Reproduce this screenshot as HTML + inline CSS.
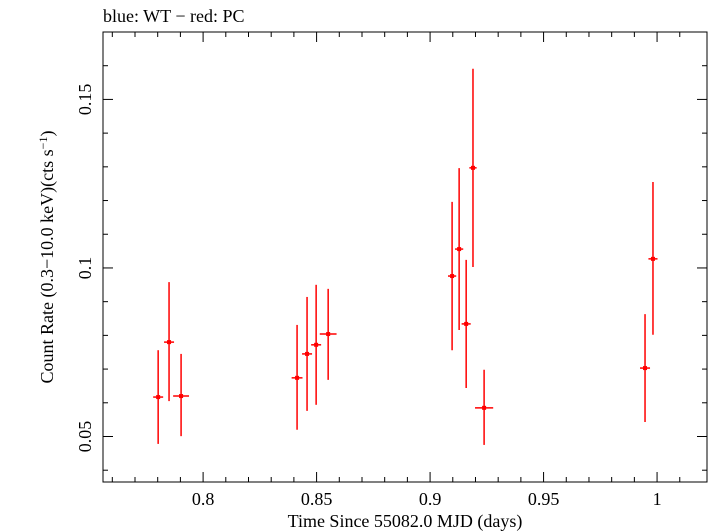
<!DOCTYPE html>
<html><head><meta charset="utf-8"><style>
body{margin:0;background:#fff;}
svg{display:block;font-family:"Liberation Serif",serif;}
</style></head><body>
<svg id="chart" width="709" height="532">
<text x="103" y="22" font-size="18">blue: WT − red: PC</text>
<rect x="103" y="32" width="604" height="450" fill="none" stroke="#000" stroke-width="1"/>
<g id="axes"></g>
<g id="marks"></g>
<text x="405" y="527" font-size="18" text-anchor="middle">Time Since 55082.0 MJD (days)</text>
<text transform="translate(53,257) rotate(-90)" font-size="18" text-anchor="middle">Count Rate (0.3−10.0 keV)(cts s<tspan dy="-6" font-size="12">−1</tspan><tspan dy="6">)</tspan></text>
</svg>
<script>
const times=[0.7802,0.7850,0.7903,0.8414,0.8458,0.8498,0.8551,0.9097,0.9128,0.9159,0.9189,0.9238,0.9947,0.9982];
const timeErr=[0.0022,0.0022,0.0035,0.0024,0.0022,0.0022,0.0037,0.0018,0.0018,0.0020,0.0016,0.0040,0.0022,0.0020];
const rates=[0.0617,0.0780,0.0620,0.0674,0.0745,0.0772,0.0804,0.0976,0.1056,0.0834,0.1297,0.0585,0.0703,0.1027];
const rateErrUp=[0.0139,0.0178,0.0125,0.0157,0.0169,0.0178,0.0134,0.0220,0.0240,0.0190,0.0294,0.0113,0.0160,0.0228];
const rateErrDown=[0.0139,0.0175,0.0119,0.0154,0.0169,0.0178,0.0136,0.0220,0.0240,0.0190,0.0294,0.0110,0.0160,0.0225];
const xTicks=[0.8,0.85,0.9,0.95,1];
const xTickLabels=["0.8","0.85","0.9","0.95","1"];
const yTicks=[0.05,0.1,0.15];
const yTickLabels=["0.05","0.1","0.15"];
const L=103,R=707,T=32,B=482,x0=0.7559,x1=1.0220,y0=0.0365,y1=0.1700;
const X=v=>L+(v-x0)/(x1-x0)*(R-L);
const Y=v=>B-(v-y0)/(y1-y0)*(B-T);
const NS="http://www.w3.org/2000/svg";
const ax=document.getElementById('axes'),mk=document.getElementById('marks');
function ln(g,a,b,c,d,col,w){const e=document.createElementNS(NS,'line');e.setAttribute('x1',a);e.setAttribute('y1',b);e.setAttribute('x2',c);e.setAttribute('y2',d);e.setAttribute('stroke',col);e.setAttribute('stroke-width',w);g.appendChild(e);return e;}
for(let v=0.76;v<=1.02;v+=0.01){const p=X(v);const major=xTicks.some(t=>Math.abs(t-v)<1e-6);const s=major?10:5;
let e=ln(ax,p,B,p,B-s,'#000',1);
e=ln(ax,p,T,p,T+s,'#000',1);}
for(let v=0.04;v<=0.17;v+=0.01){const p=Y(v);const major=yTicks.some(t=>Math.abs(t-v)<1e-6);const s=major?10:5;
let e=ln(ax,L,p,L+s,p,'#000',1);
e=ln(ax,R,p,R-s,p,'#000',1);}
xTicks.forEach((t,i)=>{const e=document.createElementNS(NS,'text');e.setAttribute('x',X(t));e.setAttribute('y',505);e.setAttribute('font-size','18');e.setAttribute('text-anchor','middle');e.textContent=xTickLabels[i];

ax.appendChild(e);});
yTicks.forEach((t,i)=>{const e=document.createElementNS(NS,'text');e.setAttribute('transform',`translate(91,${Y(t)}) rotate(-90)`);e.setAttribute('font-size','18');e.setAttribute('text-anchor','middle');e.textContent=yTickLabels[i];

ax.appendChild(e);});
times.forEach((t,i)=>{const g=document.createElementNS(NS,'g');


ln(g,X(t),Y(rates[i]+rateErrUp[i]),X(t),Y(rates[i]-rateErrDown[i]),'#f00',1.5);
ln(g,X(t-timeErr[i]),Y(rates[i]),X(t+timeErr[i]),Y(rates[i]),'#f00',1.5);
const c=document.createElementNS(NS,'rect');c.setAttribute('x',X(t)-2);c.setAttribute('y',Y(rates[i])-2);c.setAttribute('width',4);c.setAttribute('height',4);c.setAttribute('fill','#f00');g.appendChild(c);
mk.appendChild(g);});
</script>
</body></html>
